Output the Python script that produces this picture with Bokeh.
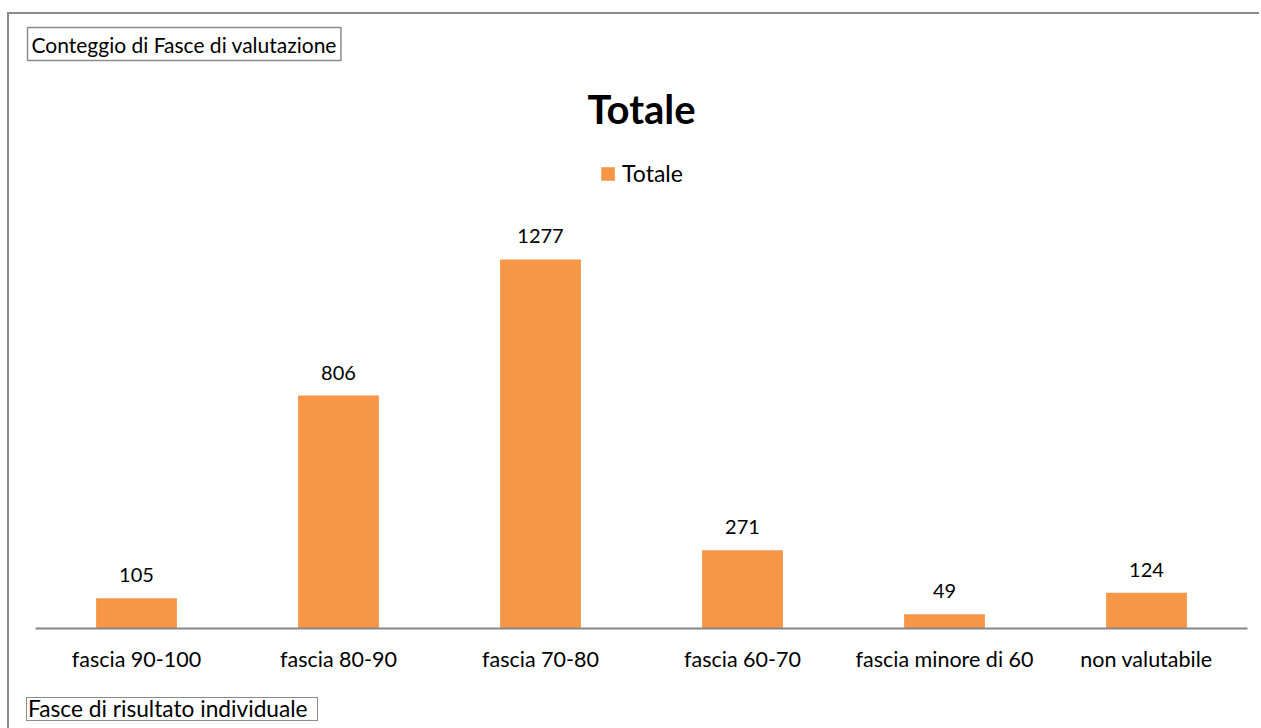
from bokeh.plotting import figure
from bokeh.layouts import column
from bokeh.models import (ColumnDataSource, FactorRange, Range1d, LabelSet, Title, Div,
                          Legend, LegendItem)
from bokeh.core.properties import value
from bokeh.embed import file_html
from bokeh.resources import INLINE

categories = ["fascia 90-100", "fascia 80-90", "fascia 70-80", "fascia 60-70",
              "fascia minore di 60", "non valutabile"]
counts = [105, 806, 1277, 271, 49, 124]
series_name = "Totale"
chart_title = "Totale"
top_label = "Conteggio di Fasce di valutazione"
bottom_label = "Fasce di risultato individuale"

FONT = "Lato"
ORANGE = "#F79646"
GRAY = "#8c8c8c"

src = ColumnDataSource(dict(cat=categories, val=counts, txt=[str(v) for v in counts]))

p = figure(x_range=FactorRange(*categories), y_range=Range1d(0, 1640),
           width=1250, height=684, output_backend="svg", toolbar_location=None,
           title=None, min_border_left=26, min_border_right=12,
           min_border_top=140, min_border_bottom=70)

r = p.vbar(x="cat", top="val", width=0.4, source=src, color=ORANGE, line_color=None)

labels = LabelSet(x="cat", y="val", text="txt", source=src, text_align="center",
                  text_baseline="alphabetic", y_offset=16, text_font_size="20px",
                  text_font=value(FONT), text_color="#000000")
p.add_layout(labels)

legend = Legend(items=[LegendItem(label=series_name, renderers=[r])],
                location="top_center", orientation="horizontal",
                label_text_font=FONT, label_text_font_size="23px", label_text_color="#000000",
                glyph_width=17, glyph_height=17, background_fill_alpha=0,
                border_line_color=None, margin=5, padding=0, label_standoff=6)
p.add_layout(legend, "center")

p.add_layout(Title(text=chart_title, align="center", text_font=FONT, text_color="#000000",
                   text_font_size="40px", text_font_style="bold", standoff=44), "above")
p.add_layout(Title(text=top_label, align="left", text_font=FONT, text_font_size="21px",
                   text_color="#000000", text_font_style="normal", border_line_color=GRAY,
                   border_line_width=1.5, offset=-8, standoff=0, padding=4), "above")

p.yaxis.visible = False
p.xgrid.grid_line_color = None
p.ygrid.grid_line_color = None
p.outline_line_color = None
p.xaxis.axis_line_color = "#868686"
p.xaxis.axis_line_width = 2
p.xaxis.major_tick_line_color = None
p.xaxis.minor_tick_line_color = None
p.xaxis.major_tick_out = 0
p.xaxis.major_label_standoff = 17
p.xaxis.major_label_text_font = FONT
p.xaxis.major_label_text_font_size = "21.5px"
p.xaxis.major_label_text_color = "#000000"

bottom_box = Div(
    text=(f'<span style="display:inline-block;position:relative;top:-6px;margin-left:12px;'
          f'border:1.5px solid {GRAY};padding:0 9px 0 1px;font-family:{FONT};'
          f'font-size:22.7px;line-height:22px;color:#000000;white-space:nowrap;">'
          f'{bottom_label}</span>'),
    width=400, height=27)

layout = column(p, bottom_box, spacing=0,
                styles={"border-top": f"2px solid {GRAY}", "border-left": f"2px solid {GRAY}",
                        "margin-top": "12px", "margin-left": "7px"})

open("out.html", "w").write(file_html(layout, INLINE))
